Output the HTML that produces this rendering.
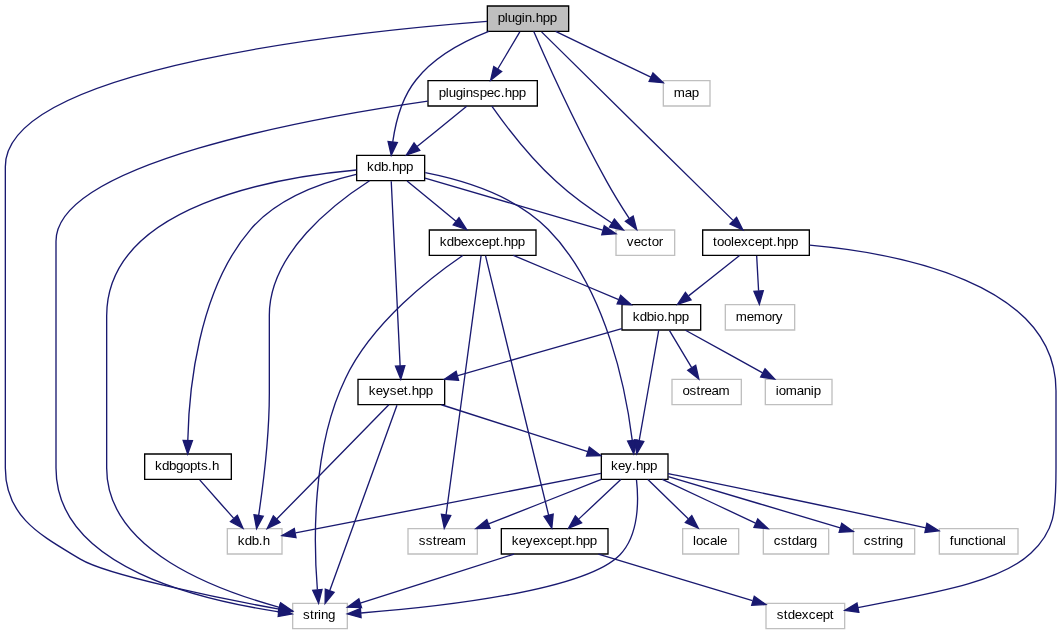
<!DOCTYPE html>
<html>
<head>
<meta charset="utf-8">
<title>plugin.hpp include graph</title>
<style>
html,body{margin:0;padding:0;background:#fff;}
body{width:1062px;height:635px;overflow:hidden;font-family:"Liberation Sans",sans-serif;}
svg{display:block;will-change:transform;}
svg text{font-family:"Liberation Sans",sans-serif;fill:#000;filter:grayscale(1);}
</style>
</head>
<body>
<svg width="1062" height="635">
<g id="graph0" class="graph" transform="scale(1.333333) translate(4 472)">
<polygon fill="white" stroke="none" points="-4,4 -4,-472 792.63,-472 792.63,4 -4,4"/>
<g id="node1" class="node">
<polygon fill="#bfbfbf" stroke="black" points="361.5,-448.5 361.5,-467.5 422.5,-467.5 422.5,-448.5 361.5,-448.5"/>
<text x="369.312 374.562 376.812 382.062 387.312 389.562 394.812 397.812 403.062 408.312" y="-455.5" font-size="10">plugin.hpp</text>
</g>
<g id="node2" class="node">
<polygon fill="white" stroke="black" points="263.5,-336.5 263.5,-355.5 314.5,-355.5 314.5,-336.5 263.5,-336.5"/>
<text x="271.188 276.438 281.688 286.938 289.938 295.188 300.438" y="-343.5" font-size="10">kdb.hpp</text>
</g>
<g id="edge1" class="edge">
<path fill="none" stroke="midnightblue" d="M362.58,-448.43C344.67,-441.42 321.89,-429.73 308,-412 297.24,-398.75 292.58,-379.62 290.55,-365.54"/>
<polygon fill="midnightblue" stroke="midnightblue" points="294.02,-365.09 289.43,-355.55 287.07,-365.87 294.02,-365.09"/>
</g>
<g id="node3" class="node">
<polygon fill="white" stroke="#bfbfbf" points="215.5,-0.5 215.5,-19.5 256.5,-19.5 256.5,-0.5 215.5,-0.5"/>
<text x="223.25 228.5 231.5 234.5 236.75 242" y="-7.5" font-size="10">string</text>
</g>
<g id="edge40" class="edge">
<path fill="none" stroke="midnightblue" d="M361.24,-455.99C268.83,-448.84 0,-422.25 0,-347 0,-347 0,-347 0,-121 0,-83.52 28.05,-69.76 56.25,-52.63 76.07,-40.6 163.14,-22.56 205.48,-15.21"/>
<polygon fill="midnightblue" stroke="midnightblue" points="206.08,-18.66 215.33,-13.50 204.88,-11.76 206.08,-18.66"/>
</g>
<g id="node4" class="node">
<polygon fill="white" stroke="#bfbfbf" points="458,-280.5 458,-299.5 502,-299.5 502,-280.5 458,-280.5"/>
<text x="466.125 471.375 476.625 481.875 484.875 490.125" y="-287.5" font-size="10">vector</text>
</g>
<g id="edge41" class="edge">
<path fill="none" stroke="midnightblue" d="M396.33,-448.31C405.07,-428.18 428.12,-376.93 451,-336 456.18,-326.59 462.52,-316.44 467.88,-308.17"/>
<polygon fill="midnightblue" stroke="midnightblue" points="470.85,-310.02 473.52,-299.77 465.05,-306.12 470.85,-310.02"/>
</g>
<g id="node20" class="node">
<polygon fill="white" stroke="black" points="317,-392.5 317,-411.5 399,-411.5 399,-392.5 317,-392.5"/>
<text x="325 330.25 332.5 337.75 343 345.25 350.5 355.75 361 366.25 371.5 374.5 379.75 385" y="-399.5" font-size="10">pluginspec.hpp</text>
</g>
<g id="edge31" class="edge">
<path fill="none" stroke="midnightblue" d="M385.87,-448.08C381.43,-440.53 374.81,-429.49 369.3,-420.23"/>
<polygon fill="midnightblue" stroke="midnightblue" points="372.25,-418.35 363.96,-411.75 366.33,-422.08 372.25,-418.35"/>
</g>
<g id="node21" class="node">
<polygon fill="white" stroke="black" points="523,-280.5 523,-299.5 603,-299.5 603,-280.5 523,-280.5"/>
<text x="530.75 533.75 539 544.25 546.5 551.75 557 562.25 567.5 572.75 575.75 578.75 584 589.25" y="-287.5" font-size="10">toolexcept.hpp</text>
</g>
<g id="edge35" class="edge">
<path fill="none" stroke="midnightblue" d="M402.17,-448.08C429.11,-421.27 510.93,-341.19 545.59,-306.89"/>
<polygon fill="midnightblue" stroke="midnightblue" points="548.39,-309.04 553.12,-299.57 543.51,-304.02 548.39,-309.04"/>
</g>
<g id="node23" class="node">
<polygon fill="white" stroke="#bfbfbf" points="493.5,-392.5 493.5,-411.5 528.5,-411.5 528.5,-392.5 493.5,-392.5"/>
<text x="501.25 509.5 514.75" y="-399.5" font-size="10">map</text>
</g>
<g id="edge39" class="edge">
<path fill="none" stroke="midnightblue" d="M412.74,-448.44C431.86,-439.13 462.44,-424.62 484.13,-414.14"/>
<polygon fill="midnightblue" stroke="midnightblue" points="485.74,-417.26 493.4,-409.94 482.84,-410.88 485.74,-417.26"/>
</g>
<g id="edge2" class="edge">
<path fill="none" stroke="midnightblue" d="M263.31,-344.48C206.66,-339.31 76,-318.77 76,-235 76,-235 76,-235 76,-121 76,-58.71 159.42,-29.2 205.55,-16.53"/>
<polygon fill="midnightblue" stroke="midnightblue" points="206.48,-19.90 215.19,-13.88 204.62,-13.16 206.48,-19.90"/>
</g>
<g id="edge3" class="edge">
<path fill="none" stroke="midnightblue" d="M314.76,-338.47C349.29,-328.25 410.57,-310.48 448.01,-299.44"/>
<polygon fill="midnightblue" stroke="midnightblue" points="449.23,-302.74 457.9,-296.65 447.33,-296 449.23,-302.74"/>
</g>
<g id="node5" class="node">
<polygon fill="white" stroke="black" points="318,-280.5 318,-299.5 398,-299.5 398,-280.5 318,-280.5"/>
<text x="325.75 331 336.25 341.5 346.75 352 357.25 362.5 367.75 370.75 373.75 379 384.25" y="-287.5" font-size="10">kdbexcept.hpp</text>
</g>
<g id="edge4" class="edge">
<path fill="none" stroke="midnightblue" d="M301.29,-336.32C311.04,-328.18 326.16,-315.84 337.97,-306.09"/>
<polygon fill="midnightblue" stroke="midnightblue" points="340.24,-308.75 345.96,-299.83 335.93,-303.24 340.24,-308.75"/>
</g>
<g id="node10" class="node">
<polygon fill="white" stroke="black" points="447,-112.5 447,-131.5 497,-131.5 497,-112.5 447,-112.5"/>
<text x="454.188 459.438 464.688 469.938 472.938 478.188 483.438" y="-119.5" font-size="10">key.hpp</text>
</g>
<g id="edge26" class="edge">
<path fill="none" stroke="midnightblue" d="M314.95,-342.46C341.42,-337.23 382.04,-325.59 407,-300 451.42,-255.03 465.81,-177.19 470.2,-141.66"/>
<polygon fill="midnightblue" stroke="midnightblue" points="473.68,-142.03 471.3,-131.7 466.72,-141.26 473.68,-142.03"/>
</g>
<g id="node15" class="node">
<polygon fill="white" stroke="#bfbfbf" points="166.5,-56.5 166.5,-75.5 207.5,-75.5 207.5,-56.5 166.5,-56.5"/>
<text x="174.25 179.5 184.75 190 193" y="-63.5" font-size="10">kdb.h</text>
</g>
<g id="edge28" class="edge">
<path fill="none" stroke="midnightblue" d="M273.18,-336.48C247.86,-320.27 197.6,-282.34 198,-235 198,-235 198,-235 198,-177 198,-144.79 193.27,-107.53 190.02,-85.69"/>
<polygon fill="midnightblue" stroke="midnightblue" points="193.43,-84.87 188.44,-75.53 186.51,-85.95 193.43,-84.87"/>
</g>
<g id="node16" class="node">
<polygon fill="white" stroke="black" points="264.5,-168.5 264.5,-187.5 329.5,-187.5 329.5,-168.5 264.5,-168.5"/>
<text x="272.625 277.875 283.125 288.375 293.625 298.875 301.875 304.875 310.125 315.375" y="-175.5" font-size="10">keyset.hpp</text>
</g>
<g id="edge27" class="edge">
<path fill="none" stroke="midnightblue" d="M289.43,-336.08C290.69,-309.95 294.39,-233.21 296.1,-197.58"/>
<polygon fill="midnightblue" stroke="midnightblue" points="299.6,-197.73 296.59,-187.57 292.61,-197.39 299.6,-197.73"/>
</g>
<g id="node19" class="node">
<polygon fill="white" stroke="black" points="104.5,-112.5 104.5,-131.5 169.5,-131.5 169.5,-112.5 104.5,-112.5"/>
<text x="112.25 117.5 122.75 128 133.25 138.5 143.75 146.75 152 155" y="-119.5" font-size="10">kdbgopts.h</text>
</g>
<g id="edge29" class="edge">
<path fill="none" stroke="midnightblue" d="M263.17,-341.19C239.24,-335.55 204.36,-323.76 184,-300 144.03,-253.75 137.59,-177.13 136.86,-141.85"/>
<polygon fill="midnightblue" stroke="midnightblue" points="140.35,-141.55 136.79,-131.57 133.35,-141.6 140.35,-141.55"/>
</g>
<g id="edge9" class="edge">
<path fill="none" stroke="midnightblue" d="M343.05,-280.38C320.55,-264.98 275.08,-230.37 255,-188 229.45,-135.25 231.33,-63.52 234.02,-29.88"/>
<polygon fill="midnightblue" stroke="midnightblue" points="237.53,-29.94 234.96,-19.66 230.56,-29.3 237.53,-29.94"/>
</g>
<g id="node6" class="node">
<polygon fill="white" stroke="black" points="372,-56.5 372,-75.5 452,-75.5 452,-56.5 372,-56.5"/>
<text x="379.75 385 390.25 395.5 400.75 406 411.25 416.5 421.75 424.75 427.75 433 438.25" y="-63.5" font-size="10">keyexcept.hpp</text>
</g>
<g id="edge5" class="edge">
<path fill="none" stroke="midnightblue" d="M360.12,-280.3C368.08,-247.56 396.34,-131.38 407.46,-85.67"/>
<polygon fill="midnightblue" stroke="midnightblue" points="410.88,-86.43 409.84,-75.88 404.07,-84.77 410.88,-86.43"/>
</g>
<g id="node8" class="node">
<polygon fill="white" stroke="#bfbfbf" points="302,-56.5 302,-75.5 354,-75.5 354,-56.5 302,-56.5"/>
<text x="310 315.25 320.5 323.5 326.5 331.75 337" y="-63.5" font-size="10">sstream</text>
</g>
<g id="edge8" class="edge">
<path fill="none" stroke="midnightblue" d="M356.82,-280.3C352.41,-247.63 336.77,-131.87 330.56,-85.96"/>
<polygon fill="midnightblue" stroke="midnightblue" points="334.01,-85.32 329.2,-75.88 327.07,-86.26 334.01,-85.32"/>
</g>
<g id="node9" class="node">
<polygon fill="white" stroke="black" points="462.5,-224.5 462.5,-243.5 521.5,-243.5 521.5,-224.5 462.5,-224.5"/>
<text x="470.625 475.875 481.125 486.375 488.625 493.875 496.875 502.125 507.375" y="-231.5" font-size="10">kdbio.hpp</text>
</g>
<g id="edge10" class="edge">
<path fill="none" stroke="midnightblue" d="M381.03,-280.44C402.1,-271.52 435.97,-257.44 460.01,-247.32"/>
<polygon fill="midnightblue" stroke="midnightblue" points="461.47,-250.5 469.44,-243.52 458.85,-244.01 461.47,-250.5"/>
</g>
<g id="edge7" class="edge">
<path fill="none" stroke="midnightblue" d="M381.56,-56.44C350.26,-46.35 298.46,-29.97 266.21,-19.59"/>
<polygon fill="midnightblue" stroke="midnightblue" points="267.19,-16.23 256.61,-16.64 265.14,-22.93 267.19,-16.23"/>
</g>
<g id="node7" class="node">
<polygon fill="white" stroke="#bfbfbf" points="570.5,-0.5 570.5,-19.5 629.5,-19.5 629.5,-0.5 570.5,-0.5"/>
<text x="578.625 583.875 586.875 592.125 597.375 602.625 607.875 613.125 618.375" y="-7.5" font-size="10">stdexcept</text>
</g>
<g id="edge6" class="edge">
<path fill="none" stroke="midnightblue" d="M444.79,-56.44C475.83,-46.94 525.93,-31.96 560.35,-21.49"/>
<polygon fill="midnightblue" stroke="midnightblue" points="561.71,-24.74 570.35,-18.62 559.77,-18.01 561.71,-24.74"/>
</g>
<g id="edge11" class="edge">
<path fill="none" stroke="midnightblue" d="M490.06,-224.37C486.95,-206.62 479.63,-165.67 475.38,-141.6"/>
<polygon fill="midnightblue" stroke="midnightblue" points="478.79,-140.8 473.56,-131.59 471.91,-142.06 478.79,-140.8"/>
</g>
<g id="edge20" class="edge">
<path fill="none" stroke="midnightblue" d="M462.38,-225.55C429.67,-216.1 376.11,-200.88 339.38,-190.32"/>
<polygon fill="midnightblue" stroke="midnightblue" points="339.93,-186.84 329.36,-187.55 338.07,-193.59 339.93,-186.84"/>
</g>
<g id="node17" class="node">
<polygon fill="white" stroke="#bfbfbf" points="570,-168.5 570,-187.5 620,-187.5 620,-168.5 570,-168.5"/>
<text x="577.75 580 585.25 593.5 598.75 604 606.25" y="-175.5" font-size="10">iomanip</text>
</g>
<g id="edge24" class="edge">
<path fill="none" stroke="midnightblue" d="M510.12,-224.32C525.54,-215.7 549.95,-202.36 567.97,-192.39"/>
<polygon fill="midnightblue" stroke="midnightblue" points="569.76,-195.4 576.99,-187.65 566.51,-189.2 569.76,-195.4"/>
</g>
<g id="node18" class="node">
<polygon fill="white" stroke="#bfbfbf" points="500,-168.5 500,-187.5 552,-187.5 552,-168.5 500,-168.5"/>
<text x="507.812 513.062 518.312 521.312 524.312 529.562 534.812" y="-175.5" font-size="10">ostream</text>
</g>
<g id="edge25" class="edge">
<path fill="none" stroke="midnightblue" d="M498.13,-224.08C502.6,-216.53 509.25,-205.49 514.77,-196.23"/>
<polygon fill="midnightblue" stroke="midnightblue" points="517.75,-198.08 520.12,-187.75 511.83,-194.35 517.75,-198.08"/>
</g>
<g id="edge17" class="edge">
<path fill="none" stroke="midnightblue" d="M473.36,-112.05C474.93,-98.08 475.67,-71.11 461,-56 434.47,-28.45 322,-16.61 266.81,-12.25"/>
<polygon fill="midnightblue" stroke="midnightblue" points="266.8,-8.74 256.58,-11.54 266.3,-15.73 266.8,-8.74"/>
</g>
<g id="edge18" class="edge">
<path fill="none" stroke="midnightblue" d="M461.61,-112.32C453.19,-104.34 440.28,-92.31 429.99,-82.65"/>
<polygon fill="midnightblue" stroke="midnightblue" points="432.19,-79.92 422.42,-75.83 427.51,-85.13 432.19,-79.92"/>
</g>
<g id="edge16" class="edge">
<path fill="none" stroke="midnightblue" d="M447,-112.44C424.47,-103.44 387.94,-89.19 362.38,-79.05"/>
<polygon fill="midnightblue" stroke="midnightblue" points="363.55,-75.75 352.96,-75.52 361.09,-82.3 363.55,-75.75"/>
</g>
<g id="node11" class="node">
<polygon fill="white" stroke="#bfbfbf" points="568.5,-56.5 568.5,-75.5 617.5,-75.5 617.5,-56.5 568.5,-56.5"/>
<text x="576.312 581.562 586.812 589.812 595.062 600.312 603.312" y="-63.5" font-size="10">cstdarg</text>
</g>
<g id="edge12" class="edge">
<path fill="none" stroke="midnightblue" d="M492.75,-112.44C511.34,-103.64 541.16,-89.81 562.62,-79.72"/>
<polygon fill="midnightblue" stroke="midnightblue" points="564.34,-82.79 572.04,-75.52 561.49,-76.4 564.34,-82.79"/>
</g>
<g id="node12" class="node">
<polygon fill="white" stroke="#bfbfbf" points="636,-56.5 636,-75.5 682,-75.5 682,-56.5 636,-56.5"/>
<text x="643.812 649.062 654.312 657.312 660.312 662.562 667.812" y="-63.5" font-size="10">cstring</text>
</g>
<g id="edge13" class="edge">
<path fill="none" stroke="midnightblue" d="M497.22,-114.47C530.57,-104.49 589.41,-87.15 626.19,-76.17"/>
<polygon fill="midnightblue" stroke="midnightblue" points="627.3,-79.5 635.94,-73.36 625.36,-72.77 627.3,-79.5"/>
</g>
<g id="node13" class="node">
<polygon fill="white" stroke="#bfbfbf" points="700.5,-56.5 700.5,-75.5 759.5,-75.5 759.5,-56.5 700.5,-56.5"/>
<text x="708.25 711.25 716.5 721.75 727 730 732.25 737.5 742.75 748" y="-63.5" font-size="10">functional</text>
</g>
<g id="edge14" class="edge">
<path fill="none" stroke="midnightblue" d="M497,-116.82C536.05,-108.82 614.09,-92.91 690.42,-76.08"/>
<polygon fill="midnightblue" stroke="midnightblue" points="691.18,-79.5 700.21,-73.95 689.69,-72.66 691.18,-79.5"/>
</g>
<g id="node14" class="node">
<polygon fill="white" stroke="#bfbfbf" points="508,-56.5 508,-75.5 550,-75.5 550,-56.5 508,-56.5"/>
<text x="515.688 517.938 523.188 528.438 533.688 535.938" y="-63.5" font-size="10">locale</text>
</g>
<g id="edge15" class="edge">
<path fill="none" stroke="midnightblue" d="M481.91,-112.32C490,-104.42 502.28,-92.55 512.18,-82.94"/>
<polygon fill="midnightblue" stroke="midnightblue" points="514.82,-85.25 519.68,-75.83 510.01,-80.17 514.82,-85.25"/>
</g>
<g id="edge19" class="edge">
<path fill="none" stroke="midnightblue" d="M446.71,-116.96C394.36,-106.62 274.32,-83.44 217.67,-72.28"/>
<polygon fill="midnightblue" stroke="midnightblue" points="218.01,-68.78 207.54,-70.36 216.71,-75.66 218.01,-68.78"/>
</g>
<g id="edge21" class="edge">
<path fill="none" stroke="midnightblue" d="M293.72,-168.08C284.31,-141.83 256.13,-64.55 243.34,-29.12"/>
<polygon fill="midnightblue" stroke="midnightblue" points="246.56,-27.75 239.83,-19.57 239.99,-30.16 246.56,-27.75"/>
</g>
<g id="edge22" class="edge">
<path fill="none" stroke="midnightblue" d="M327.06,-168.44C356.61,-158.91 404.7,-143.66 436.81,-133.34"/>
<polygon fill="midnightblue" stroke="midnightblue" points="437.98,-136.65 446.5,-130.35 435.91,-129.96 437.98,-136.65"/>
</g>
<g id="edge23" class="edge">
<path fill="none" stroke="midnightblue" d="M287.62,-168.37C269.66,-149.89 226.59,-106.29 203.56,-82.74"/>
<polygon fill="midnightblue" stroke="midnightblue" points="205.96,-80.19 196.41,-75.59 201.01,-85.14 205.96,-80.19"/>
</g>
<g id="edge30" class="edge">
<path fill="none" stroke="midnightblue" d="M145.78,-112.08C152.59,-104.3 162.84,-92.8 171.17,-83.37"/>
<polygon fill="midnightblue" stroke="midnightblue" points="173.99,-85.47 178.22,-75.75 168.85,-80.71 173.99,-85.47"/>
</g>
<g id="edge34" class="edge">
<path fill="none" stroke="midnightblue" d="M346.01,-392.32C336.08,-384.18 320.79,-371.84 308.8,-362.09"/>
<polygon fill="midnightblue" stroke="midnightblue" points="310.84,-359.24 300.81,-355.83 306.53,-364.75 310.84,-359.24"/>
</g>
<g id="edge32" class="edge">
<path fill="none" stroke="midnightblue" d="M316.82,-396.19C230.39,-383.68 38,-349.49 38,-291 38,-291 38,-291 38,-121 38,-45.14 149.73,-21.68 205.17,-13.11"/>
<polygon fill="midnightblue" stroke="midnightblue" points="205.70,-16.57 215.05,-11.58 204.64,-9.65 205.70,-16.57"/>
</g>
<g id="edge33" class="edge">
<path fill="none" stroke="midnightblue" d="M364.85,-392.34C374.11,-379.23 393.2,-353.94 413,-336 425.81,-324.16 441.94,-313.01 454.86,-304.77"/>
<polygon fill="midnightblue" stroke="midnightblue" points="456.75,-307.72 463.5,-299.56 453.12,-301.73 456.75,-307.72"/>
</g>
<g id="edge37" class="edge">
<path fill="none" stroke="midnightblue" d="M603.23,-288.1C667.94,-282.23 788,-260.66 788,-179 788,-179 788,-179 788,-121 788,-87.25 787.14,-73.96 769.08,-57.04 744.18,-33.7 687.01,-25.87 639.43,-16.22"/>
<polygon fill="midnightblue" stroke="midnightblue" points="640.13,-12.79 629.63,-14.23 638.73,-19.65 640.13,-12.79"/>
</g>
<g id="edge38" class="edge">
<path fill="none" stroke="midnightblue" d="M550.69,-280.32C540.49,-272.18 524.76,-259.84 512.44,-250.09"/>
<polygon fill="midnightblue" stroke="midnightblue" points="514.29,-247.1 504.21,-243.83 510.06,-252.67 514.29,-247.1"/>
</g>
<g id="node22" class="node">
<polygon fill="white" stroke="#bfbfbf" points="540,-224.5 540,-243.5 592,-243.5 592,-224.5 540,-224.5"/>
<text x="547.812 556.062 561.312 569.562 574.812 577.812" y="-231.5" font-size="10">memory</text>
</g>
<g id="edge36" class="edge">
<path fill="none" stroke="midnightblue" d="M563.5,-280.08C563.89,-273.01 564.45,-262.86 564.95,-253.99"/>
<polygon fill="midnightblue" stroke="midnightblue" points="568.45,-253.93 565.51,-243.75 561.46,-253.54 568.45,-253.93"/>
</g>
</g>
</svg>

</body>
</html>
